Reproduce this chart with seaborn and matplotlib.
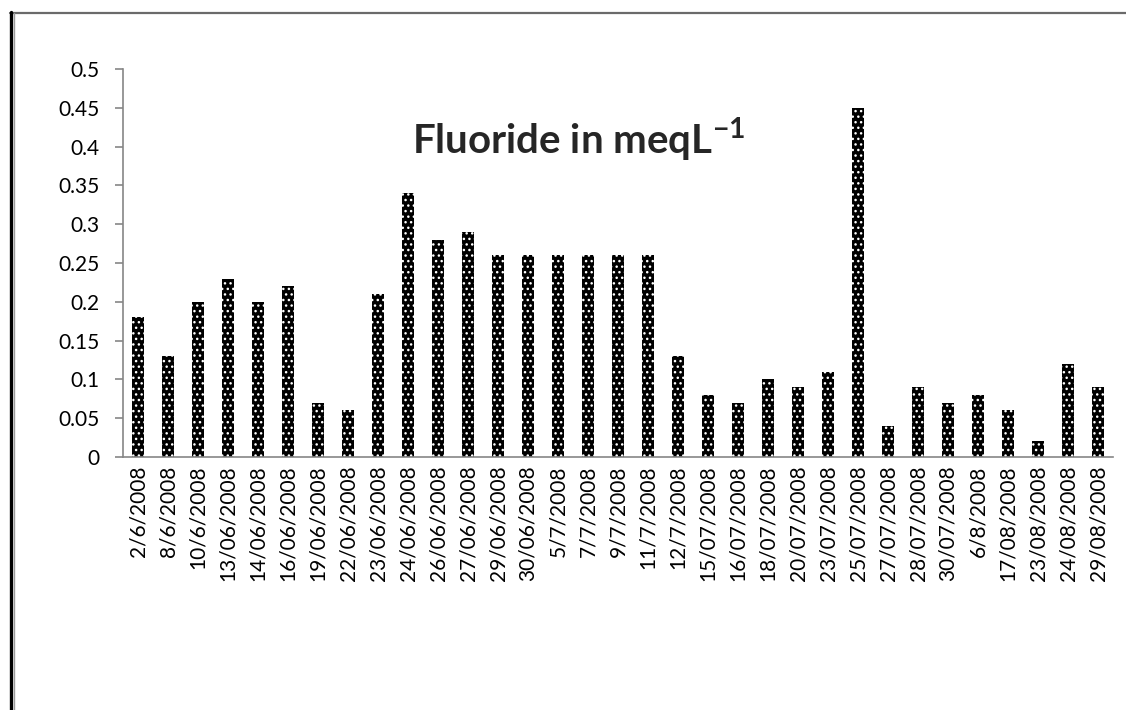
import matplotlib
matplotlib.use("Agg")
import matplotlib.pyplot as plt
import seaborn as sns
import pandas as pd
import numpy as np
from matplotlib.lines import Line2D

dates = ["2/6/2008", "8/6/2008", "10/6/2008", "13/06/2008", "14/06/2008", "16/06/2008",
         "19/06/2008", "22/06/2008", "23/06/2008", "24/06/2008", "26/06/2008", "27/06/2008",
         "29/06/2008", "30/06/2008", "5/7/2008", "7/7/2008", "9/7/2008", "11/7/2008",
         "12/7/2008", "15/07/2008", "16/07/2008", "18/07/2008", "20/07/2008", "23/07/2008",
         "25/07/2008", "27/07/2008", "28/07/2008", "30/07/2008", "6/8/2008", "17/08/2008",
         "23/08/2008", "24/08/2008", "29/08/2008"]
fluoride = [0.18, 0.13, 0.20, 0.23, 0.20, 0.22, 0.07, 0.06, 0.21, 0.34, 0.28, 0.29,
            0.26, 0.26, 0.26, 0.26, 0.26, 0.26, 0.13, 0.08, 0.07, 0.10, 0.09, 0.11,
            0.45, 0.04, 0.09, 0.07, 0.08, 0.06, 0.02, 0.12, 0.09]
yticks = [0, 0.05, 0.1, 0.15, 0.2, 0.25, 0.3, 0.35, 0.4, 0.45, 0.5]
ytick_labels = ["0", "0.05", "0.1", "0.15", "0.2", "0.25", "0.3", "0.35", "0.4", "0.45", "0.5"]

sns.set_style("white")
plt.rcParams['font.family'] = ['Lato', 'DejaVu Sans']
plt.rcParams['mathtext.fontset'] = 'custom'
plt.rcParams['mathtext.rm'] = 'Lato'
plt.rcParams['mathtext.bf'] = 'Lato:bold'
plt.rcParams['hatch.linewidth'] = 1.0

df = pd.DataFrame({"date": dates, "fluoride": fluoride})

fig = plt.figure(figsize=(11.26, 7.1), dpi=100)
ax = fig.add_axes([123/1126, 1 - 457/710, 990/1126, 388/710])

sns.barplot(data=df, x="date", y="fluoride", color="black", width=0.43,
            saturation=1, ax=ax, order=dates)
for p in ax.patches:
    p.set_facecolor("black")
    p.set_edgecolor("white")
    p.set_hatch("...")
    p.set_linewidth(0)

axis_col = "#868686"
ax.set_xlim(-0.5, len(dates) - 0.5)
ax.set_ylim(0, 0.5)
ax.set_yticks(yticks)
ax.set_yticklabels(ytick_labels, fontsize=15, color="black")
ax.set_xticks(range(len(dates)))
ax.set_xticklabels(dates, rotation=90, fontsize=15, color="black")
ax.set_xticks(np.arange(len(dates) + 1) - 0.5, minor=True)
ax.tick_params(axis="x", which="major", length=0, pad=6)
ax.tick_params(axis="x", which="minor", length=6, width=1.2, color=axis_col, direction="out")
ax.tick_params(axis="y", which="major", length=6, width=1.2, color=axis_col, direction="out", left=True, pad=11)
ax.set_xlabel("")
ax.set_ylabel("")
for s in ["top", "right"]:
    ax.spines[s].set_visible(False)
for s in ["left", "bottom"]:
    ax.spines[s].set_color(axis_col)
    ax.spines[s].set_linewidth(1.2)

ax.text(0.46, 0.817, r"Fluoride in meqL$^{\mathbf{-1}}$", transform=ax.transAxes,
        ha="center", va="center", fontsize=29, fontweight="bold")

# outer border (chart frame)
W, H = 1126, 710
fig.add_artist(Line2D([10/W, 1], [1 - 13/H, 1 - 13/H], transform=fig.transFigure,
                      color="#6a6a6a", lw=1.6))
fig.add_artist(Line2D([10.5/W, 10.5/W], [0, 1 - 12/H], transform=fig.transFigure,
                      color="black", lw=2.4))
fig.add_artist(Line2D([14/W, 14/W], [0, 1 - 13/H], transform=fig.transFigure,
                      color="#9a9a9a", lw=1.0))

fig.savefig("out.png", dpi=100)
